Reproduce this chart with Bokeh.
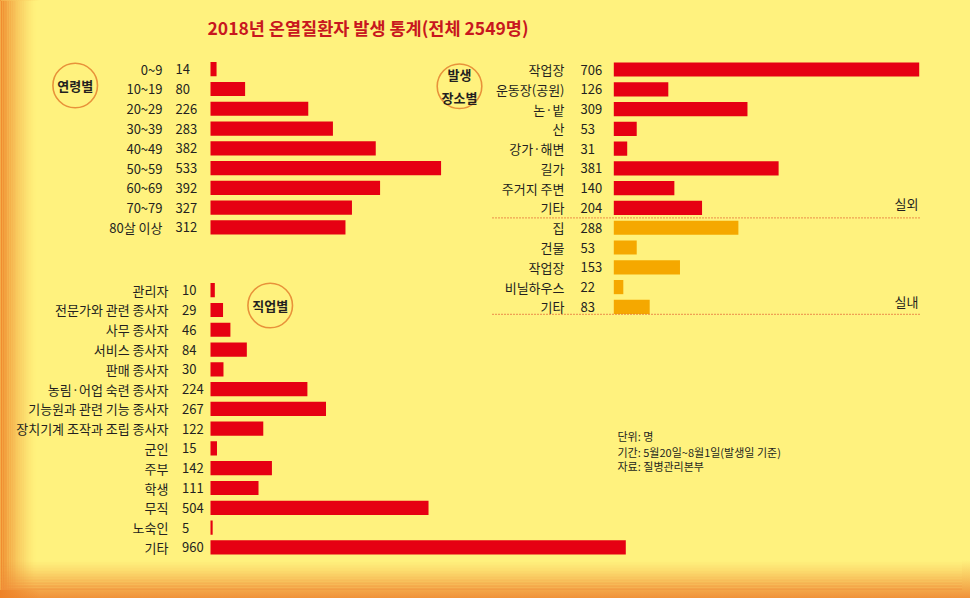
import numpy as np
from bokeh.plotting import figure
from bokeh.models import Range1d, GlobalInlineStyleSheet
from bokeh.core.properties import value
from bokeh.embed import file_html
from bokeh.resources import INLINE

# ---------------- data ----------------
title_text = "2018년 온열질환자 발생 통계(전체 2549명)"

age_labels = ["0~9", "10~19", "20~29", "30~39", "40~49", "50~59", "60~69", "70~79", "80살 이상"]
age_values = [14, 80, 226, 283, 382, 533, 392, 327, 312]

place_labels = ["작업장", "운동장(공원)", "논·밭", "산", "강가·해변", "길가", "주거지 주변", "기타",
                "집", "건물", "작업장", "비닐하우스", "기타"]
place_values = [706, 126, 309, 53, 31, 381, 140, 204, 288, 53, 153, 22, 83]
place_groups = ["실외", "실외", "실외", "실외", "실외", "실외", "실외", "실외",
                "실내", "실내", "실내", "실내", "실내"]

occ_labels = ["관리자", "전문가와 관련 종사자", "사무 종사자", "서비스 종사자", "판매 종사자",
              "농림·어업 숙련 종사자", "기능원과 관련 기능 종사자", "장치기계 조작과 조립 종사자",
              "군인", "주부", "학생", "무직", "노숙인", "기타"]
occ_values = [10, 29, 46, 84, 30, 224, 267, 122, 15, 142, 111, 504, 5, 960]

notes = ["단위: 명", "기간: 5월20일~8월1일(발생일 기준)", "자료: 질병관리본부"]

# ---------------- style ----------------
FONT = "Noto Sans CJK KR"
BG = "#fff27e"
RED = "#e60012"
ORANGE = "#f5a800"
TXT = "#231f20"
CIRCLE = "#e8923a"

W, H = 962, 590
X0, Y0 = 0, 0          # range units equal reference pixels
S = 0.4326             # pixels per person
DY = 19.78             # row pitch in pixels

p = figure(width=W, height=H, x_range=Range1d(X0, X0 + W), y_range=Range1d(Y0 + H, Y0),
           output_backend="svg", toolbar_location=None, min_border=0,
           x_axis_location=None, y_axis_location=None)
p.grid.visible = False
p.outline_line_color = None
p.background_fill_color = BG
p.border_fill_color = BG
p.stylesheets = [GlobalInlineStyleSheet(css=(
    "html,body{background:linear-gradient(to right,#ee8228 0px,rgba(255,242,126,0) 40px),"
    "linear-gradient(to bottom,#fff27e 0px,#fff27e 560px,#f0923a 598px);}"))]

# decorative background gradient (left and bottom edges)
n = 20
lx = np.arange(n) * 1.8 + X0
p.quad(left=lx, right=lx + 1.8, bottom=Y0 + H, top=Y0,
       fill_color="#ee8228", fill_alpha=0.9 * (1 - np.arange(n) / n) ** 1.5, line_color=None)
by = Y0 + H - np.arange(n) * 1.5
p.quad(left=X0, right=X0 + W, bottom=by, top=by - 1.5,
       fill_color="#f08e38", fill_alpha=0.85 * (1 - np.arange(n) / n) ** 1.3, line_color=None)


def panel(name, bar_x, row_y, labels, values, colors, label_right, value_left):
    k = len(values)
    p.extra_x_ranges[name] = Range1d((X0 - bar_x) / S, (X0 + W - bar_x) / S)
    p.extra_y_ranges[name] = Range1d((Y0 + H - row_y) / DY, (Y0 - row_y) / DY)
    idx = list(range(k))
    p.hbar(y=idx, left=0, right=values, height=14.2 / DY, fill_color=colors, line_color=None,
           x_range_name=name, y_range_name=name)
    p.text(x=[label_right] * k, y=idx, text=labels, y_range_name=name,
           text_align="right", text_baseline="middle", text_font=value(FONT),
           text_font_size="13px", text_color=TXT)
    p.text(x=[value_left] * k, y=idx, text=[str(v) for v in values], y_range_name=name,
           text_align="left", text_baseline="middle", text_font=value(FONT),
           text_font_size="13px", text_color=TXT)


panel("age", 210, 68.7, age_labels, age_values, [RED] * len(age_values), 162, 175)
place_colors = [RED if g == "실외" else ORANGE for g in place_groups]
panel("place", 613.3, 69.0, place_labels, place_values, place_colors, 564, 580)
panel("occ", 210, 289.7, occ_labels, occ_values, [RED] * len(occ_values), 168, 181.5)

# group separators and names in the place panel
n_out = place_groups.count("실외")
n_all = len(place_groups)
p.segment(x0=[492, 492], x1=[919, 919], y0=[n_out - 0.5, n_all - 0.62], y1=[n_out - 0.5, n_all - 0.62],
          y_range_name="place", line_color="#e0502a", line_width=1.2, line_dash="1 2")
p.text(x=[918, 918], y=[n_out - 1 - 0.25, n_all - 1 - 0.25], text=["실외", "실내"], y_range_name="place",
       text_align="right", text_baseline="middle", text_font=value(FONT),
       text_font_size="13px", text_color=TXT)

# circled section names
p.circle(x=[74.7, 459, 269.7], y=[85, 85.7, 305], radius=22.3, radius_units="screen",
         fill_color=None, line_color=CIRCLE, line_width=1.6)
p.text(x=[74.7, 459, 459, 269.7], y=[84.5, 73.5, 97, 304.5], text=["연령별", "발생", "장소별", "직업별"],
       text_align="center", text_baseline="middle", text_font=value(FONT),
       text_font_size="13px", text_font_style="bold", text_color=TXT)

# title
p.text(x=[367.5], y=[27], text=[title_text], text_align="center", text_baseline="middle",
       text_font=value(FONT), text_font_size="17.5px", text_font_style="bold", text_color="#c8171e")

# notes
p.text(x=[617] * len(notes), y=[435, 451, 465], text=notes, text_align="left", text_baseline="middle",
       text_font=value(FONT), text_font_size="11px", text_color=TXT)

open("out.html", "w").write(file_html(p, INLINE))
